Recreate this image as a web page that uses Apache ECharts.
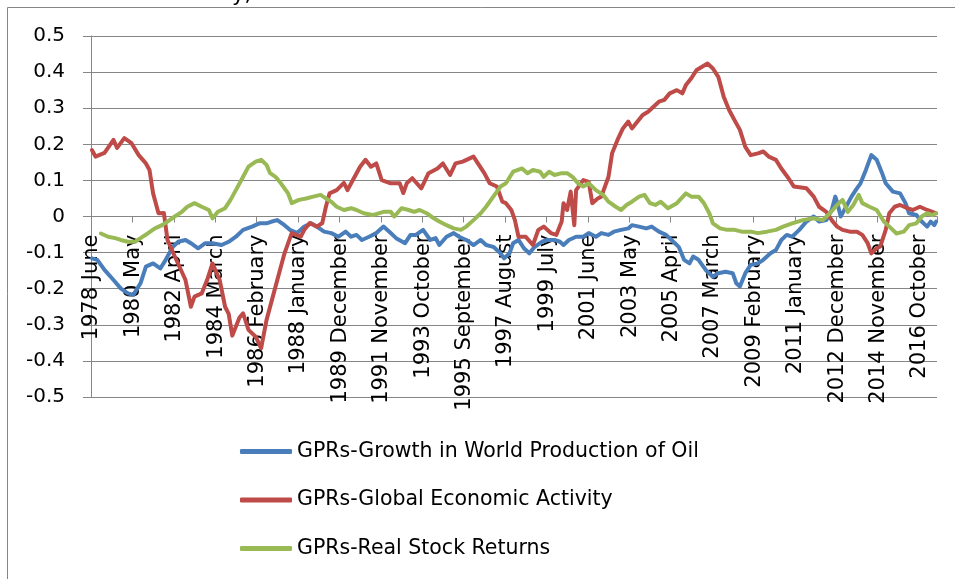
<!DOCTYPE html>
<html>
<head>
<meta charset="utf-8">
<title>GPRs</title>
<script src="https://cdn.jsdelivr.net/npm/echarts@6/dist/echarts.min.js"></script>
<style>
  html, body { margin: 0; padding: 0; background: #fff; }
  #chart { width: 955px; height: 579px; }
</style>
</head>
<body>
<div id="chart"></div>
<script>
// monthly categories, 1978 June .. 2017 July
const startYear = 1978
const startMonth = 5 // June (0-based)
const monthCount = 470
const monthNames = ['January', 'February', 'March', 'April', 'May', 'June',
  'July', 'August', 'September', 'October', 'November', 'December']

const categories = []
for (let i = 0; i < monthCount; i++) {
  const m = startMonth + i
  categories.push((startYear + Math.floor(m / 12)) + ' ' + monthNames[m % 12])
}

const seriesNames = [
  'GPRs-Growth in World Production of Oil',
  'GPRs-Global Economic Activity',
  'GPRs-Real Stock Returns'
]

// [month index, value]
const oilProduction = [
  [0, -0.116], [3, -0.12], [7, -0.148], [12, -0.176], [16, -0.199], [20, -0.213], [23, -0.217],
  [27, -0.185], [30, -0.139], [34, -0.13], [38, -0.144], [41, -0.12], [45, -0.084], [48, -0.07],
  [52, -0.065], [55, -0.074], [59, -0.088], [63, -0.074], [67, -0.074], [72, -0.079], [76, -0.07],
  [80, -0.056], [84, -0.037], [89, -0.028], [93, -0.019], [97, -0.019], [100, -0.014], [103, -0.01],
  [107, -0.024], [110, -0.037], [114, -0.046], [118, -0.028], [122, -0.019], [125, -0.028],
  [129, -0.042], [133, -0.046], [137, -0.056], [141, -0.042], [144, -0.056], [147, -0.051],
  [150, -0.065], [154, -0.056], [158, -0.046], [162, -0.028], [166, -0.046], [169, -0.06],
  [174, -0.074], [177, -0.051], [180, -0.051], [184, -0.037], [188, -0.065], [191, -0.06],
  [193, -0.079], [197, -0.056], [201, -0.046], [204, -0.056], [208, -0.065], [212, -0.079],
  [216, -0.065], [219, -0.079], [223, -0.084], [227, -0.102], [229, -0.116], [232, -0.102],
  [234, -0.074], [237, -0.065], [240, -0.088], [243, -0.102], [246, -0.084], [250, -0.07],
  [253, -0.065], [257, -0.065], [260, -0.07], [262, -0.079], [265, -0.065], [269, -0.056],
  [273, -0.056], [276, -0.046], [280, -0.056], [283, -0.046], [287, -0.051], [290, -0.042],
  [294, -0.037], [298, -0.033], [300, -0.024], [304, -0.028], [308, -0.033], [311, -0.028],
  [315, -0.042], [319, -0.051], [322, -0.065], [326, -0.084], [329, -0.12], [332, -0.13],
  [334, -0.111], [337, -0.12], [341, -0.148], [345, -0.167], [348, -0.157], [352, -0.153],
  [356, -0.157], [358, -0.185], [360, -0.194], [363, -0.157], [366, -0.134], [370, -0.13],
  [373, -0.12], [377, -0.102], [380, -0.093], [383, -0.065], [386, -0.051], [389, -0.056],
  [393, -0.037], [397, -0.014], [401, 0], [404, -0.014], [408, -0.01], [411, 0.018], [413, 0.055],
  [414, 0.04], [416, 0], [419, 0.027], [422, 0.055], [425, 0.078], [427, 0.092], [430, 0.129],
  [433, 0.17], [436, 0.157], [439, 0.12], [441, 0.092], [445, 0.069], [449, 0.064], [452, 0.037],
  [454, 0.009], [458, 0.004], [461, -0.014], [464, -0.028], [466, -0.014], [468, -0.024], [469, -0.014]
]

const economicActivity = [
  [0, 0.184], [2, 0.166], [7, 0.176], [12, 0.212], [14, 0.19], [18, 0.217], [22, 0.203],
  [26, 0.17], [30, 0.147], [32, 0.129], [34, 0.064], [37, 0.009], [40, 0.01], [42, -0.065],
  [46, -0.11], [52, -0.176], [55, -0.25], [57, -0.222], [61, -0.213], [64, -0.176], [67, -0.13],
  [71, -0.176], [74, -0.25], [76, -0.27], [78, -0.33], [82, -0.28], [84, -0.268], [87, -0.314],
  [91, -0.333], [94, -0.365], [97, -0.287], [101, -0.213], [104, -0.157], [107, -0.102],
  [111, -0.046], [116, -0.056], [118, -0.037], [121, -0.018], [125, -0.028], [128, -0.018],
  [130, 0.027], [132, 0.064], [136, 0.073], [140, 0.093], [142, 0.073], [145, 0.101], [149, 0.138],
  [152, 0.157], [155, 0.138], [158, 0.147], [161, 0.101], [166, 0.092], [171, 0.092], [173, 0.065],
  [175, 0.093], [178, 0.106], [183, 0.078], [187, 0.12], [192, 0.133], [195, 0.147], [199, 0.115],
  [202, 0.147], [206, 0.152], [212, 0.166], [215, 0.143], [218, 0.12], [221, 0.092], [225, 0.083],
  [228, 0.041], [230, 0.037], [233, 0.018], [235, -0.01], [237, -0.056], [241, -0.056],
  [245, -0.079], [248, -0.037], [251, -0.028], [255, -0.046], [258, -0.051], [261, -0.014],
  [262, 0.037], [264, 0.018], [266, 0.069], [268, -0.024], [269, 0.073], [273, 0.101], [276, 0.096],
  [278, 0.037], [281, 0.05], [283, 0.055], [287, 0.11], [289, 0.175], [292, 0.212], [295, 0.244],
  [298, 0.263], [300, 0.244], [306, 0.281], [309, 0.29], [312, 0.304], [315, 0.318], [318, 0.323],
  [321, 0.341], [325, 0.35], [328, 0.341], [330, 0.364], [333, 0.383], [336, 0.406], [339, 0.415],
  [342, 0.424], [345, 0.41], [348, 0.387], [351, 0.332], [354, 0.295], [357, 0.267], [360, 0.24],
  [363, 0.193], [366, 0.17], [370, 0.175], [373, 0.18], [376, 0.166], [380, 0.157], [383, 0.133],
  [387, 0.106], [390, 0.083], [397, 0.078], [401, 0.055], [404, 0.027], [408, 0.013], [411, -0.01],
  [414, -0.028], [417, -0.037], [421, -0.042], [425, -0.042], [428, -0.051], [431, -0.074],
  [433, -0.102], [436, -0.088], [438, -0.083], [441, -0.037], [443, 0.009], [446, 0.027],
  [449, 0.032], [453, 0.023], [456, 0.018], [460, 0.027], [464, 0.018], [467, 0.013], [469, 0.009]
]

const stockReturns = [
  [5, -0.047], [9, -0.056], [13, -0.06], [16, -0.065], [20, -0.07], [24, -0.07], [27, -0.06],
  [31, -0.047], [35, -0.033], [39, -0.024], [42, -0.014], [46, 0], [50, 0.013], [53, 0.027],
  [57, 0.037], [61, 0.027], [65, 0.018], [67, -0.005], [70, 0.013], [74, 0.023], [77, 0.046],
  [80, 0.073], [84, 0.11], [87, 0.138], [91, 0.152], [94, 0.157], [97, 0.143], [99, 0.12],
  [102, 0.11], [105, 0.092], [109, 0.064], [111, 0.037], [115, 0.046], [119, 0.05], [123, 0.055],
  [127, 0.06], [130, 0.05], [133, 0.041], [136, 0.027], [140, 0.018], [144, 0.023], [147, 0.018],
  [151, 0.009], [156, 0.004], [162, 0.013], [166, 0.013], [168, 0], [172, 0.023], [176, 0.018],
  [179, 0.013], [182, 0.018], [186, 0.009], [190, -0.005], [193, -0.014], [197, -0.024],
  [201, -0.033], [205, -0.037], [208, -0.028], [212, -0.01], [216, 0.009], [219, 0.027], [223, 0.055],
  [227, 0.083], [230, 0.092], [234, 0.124], [239, 0.133], [242, 0.12], [245, 0.129], [249, 0.124],
  [251, 0.11], [254, 0.124], [257, 0.115], [261, 0.12], [264, 0.12], [267, 0.11], [270, 0.092],
  [273, 0.083], [276, 0.092], [280, 0.073], [284, 0.06], [287, 0.041], [291, 0.027], [294, 0.018],
  [297, 0.032], [300, 0.041], [304, 0.055], [307, 0.06], [310, 0.037], [313, 0.032], [316, 0.041],
  [320, 0.023], [325, 0.037], [330, 0.064], [333, 0.055], [337, 0.055], [340, 0.037], [343, 0.009],
  [345, -0.019], [349, -0.033], [353, -0.037], [357, -0.037], [361, -0.042], [366, -0.042],
  [370, -0.046], [375, -0.042], [380, -0.037], [384, -0.028], [389, -0.019], [395, -0.01],
  [401, -0.005], [406, -0.01], [410, 0.009], [414, 0.032], [417, 0.046], [420, 0.013], [423, 0.032],
  [426, 0.06], [428, 0.037], [432, 0.027], [436, 0.018], [440, -0.014], [443, -0.028], [447, -0.047],
  [451, -0.042], [454, -0.024], [458, -0.019], [461, 0], [464, 0.009], [467, 0.004], [469, 0.009]
]

const colors = ['#4a7ebb', '#be4b48', '#98b954']
const font = 'DejaVu Sans'

const chart = echarts.init(document.getElementById('chart'))

const lineSeries = (name, data, color) => ({
  name,
  type: 'line',
  data,
  symbol: 'none',
  lineStyle: { color, width: 4, cap: 'round', join: 'round' },
  itemStyle: { color },
  animation: false
})

// plot area: y from 36 (0.5) to 397 (-0.5), zero line at 216.5
chart.setOption({
  animation: false,
  grid: { left: 91, right: 18, top: 36, bottom: 182, containLabel: false, outerBoundsMode: 'none' },
  xAxis: {
    type: 'category',
    data: categories,
    boundaryGap: true,
    offset: -180.5, // move the axis up to the zero line
    axisLine: { onZero: false, lineStyle: { color: '#868686', width: 1 } },
    axisTick: { show: true, interval: 22, length: 6, lineStyle: { color: '#868686' } },
    axisLabel: {
      interval: 22,
      rotate: 90,
      margin: 18,
      color: '#000',
      fontFamily: font,
      fontSize: 21
    },
    splitLine: { show: false }
  },
  yAxis: {
    type: 'value',
    min: -0.5,
    max: 0.5,
    interval: 0.1,
    axisLine: { show: true, lineStyle: { color: '#868686', width: 1 } },
    axisTick: { show: true, length: 8, lineStyle: { color: '#868686' } },
    axisLabel: {
      margin: 26,
      color: '#000',
      fontFamily: font,
      fontSize: 20,
      formatter: v => String(+v.toFixed(1))
    },
    splitLine: { lineStyle: { color: '#868686', width: 1 } }
  },
  legend: {
    orient: 'vertical',
    left: 235,
    top: 434,
    itemWidth: 52,
    itemHeight: 5,
    itemGap: 23.5,
    icon: 'roundRect',
    textStyle: { fontFamily: font, fontSize: 20.5, color: '#000', lineHeight: 25 },
    data: seriesNames
  },
  graphic: [
    {
      type: 'rect',
      shape: { x: 7.5, y: 7.5, width: 1200, height: 1200 },
      style: { fill: 'none', stroke: '#868686', lineWidth: 1 },
      silent: true
    },
    {
      type: 'text',
      left: 232,
      top: -15,
      style: { text: 'y,', fontFamily: font, fontSize: 21, fill: '#000' },
      silent: true
    }
  ],
  series: [
    lineSeries(seriesNames[0], oilProduction, colors[0]),
    lineSeries(seriesNames[1], economicActivity, colors[1]),
    lineSeries(seriesNames[2], stockReturns, colors[2])
  ]
})
</script>
</body>
</html>
